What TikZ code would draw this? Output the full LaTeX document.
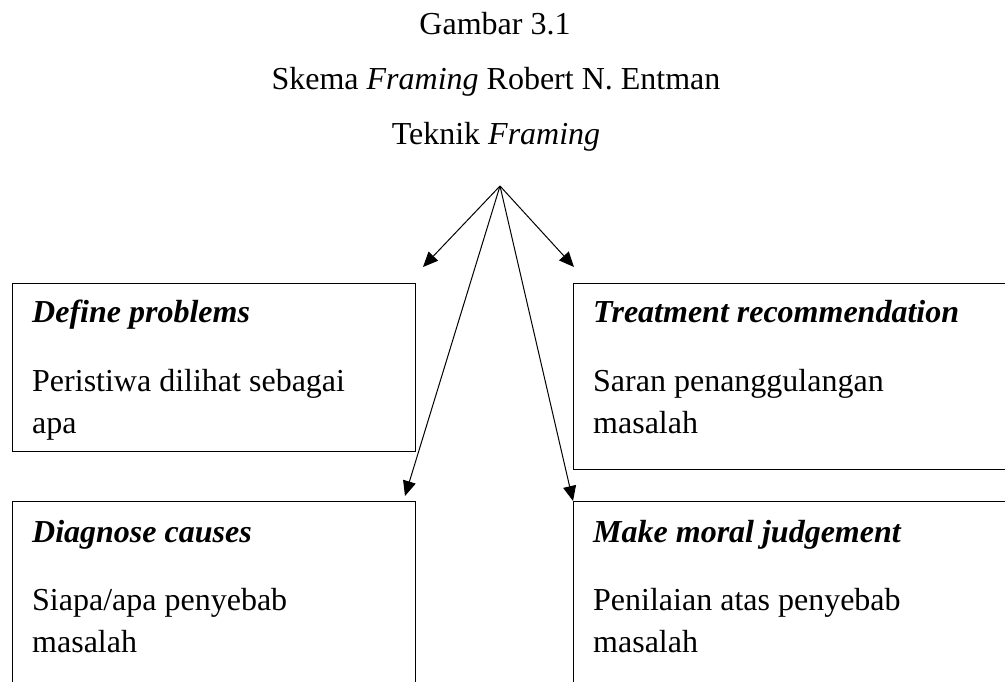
\documentclass[tikz,border=0pt]{standalone}
\usepackage{fontspec}
\setmainfont{Liberation Serif}
\usetikzlibrary{arrows.meta}
\tikzset{
  box/.style={draw, line width=1.2pt, anchor=north west, inner sep=0pt},
  titletext/.style={anchor=base, inner sep=0pt, font=\fontsize{32}{40}\selectfont},
  headtext/.style={anchor=base west, inner sep=0pt, font=\fontsize{32}{40}\selectfont\bfseries\itshape},
  bodytext/.style={anchor=base west, inner sep=0pt, font=\fontsize{32}{40}\selectfont},
  arr/.style={-{Triangle[length=15pt,width=13pt]}, line width=1pt}
}
\begin{document}
\begin{tikzpicture}[x=1pt,y=-1pt]
  \useasboundingbox (0,0) rectangle (1005,681);
  \clip (0,0) rectangle (1005,681);

  \node[titletext] (gambar) at (495,34) {Gambar 3.1};
  \node[titletext] (skema) at (496,89) {Skema \textit{Framing} Robert N. Entman};
  \node[titletext] (teknik) at (496,144) {Teknik \textit{Framing}};

  \node[box, minimum width=403pt, minimum height=168pt] (defprob) at (12,283) {};
  \node[box, minimum width=460pt, minimum height=186pt] (treat) at (573,283) {};
  \node[box, minimum width=403pt, minimum height=220pt] (diag) at (12,501) {};
  \node[box, minimum width=460pt, minimum height=220pt] (moral) at (573,501) {};

  \node[headtext] (defhead) at (32,322) {Define problems};
  \node[bodytext] (defline1) at (32,391) {Peristiwa dilihat sebagai};
  \node[bodytext] (defline2) at (32,433) {apa};

  \node[headtext] (treathead) at (593,322) {Treatment recommendation};
  \node[bodytext] (treatline1) at (593,391) {Saran penanggulangan};
  \node[bodytext] (treatline2) at (593,433) {masalah};

  \node[headtext] (diaghead) at (32,542) {Diagnose causes};
  \node[bodytext] (diagline1) at (32,610) {Siapa/apa penyebab};
  \node[bodytext] (diagline2) at (32,652) {masalah};

  \node[headtext] (moralhead) at (593,542) {Make moral judgement};
  \node[bodytext] (moralline1) at (593,610) {Penilaian atas penyebab};
  \node[bodytext] (moralline2) at (593,652) {masalah};

  \coordinate (src) at (500,186);
  \coordinate (tipdef) at (423,267);
  \coordinate (tiptreat) at (574,267);
  \coordinate (tipdiag) at (405,496);

  \draw[arr] (src) -- (tipdef);
  \draw[arr] (src) -- (tiptreat);
  \draw[arr] (src) -- (tipdiag);
  \draw[arr] (src) -- (moral.north west);
\end{tikzpicture}
\end{document}
